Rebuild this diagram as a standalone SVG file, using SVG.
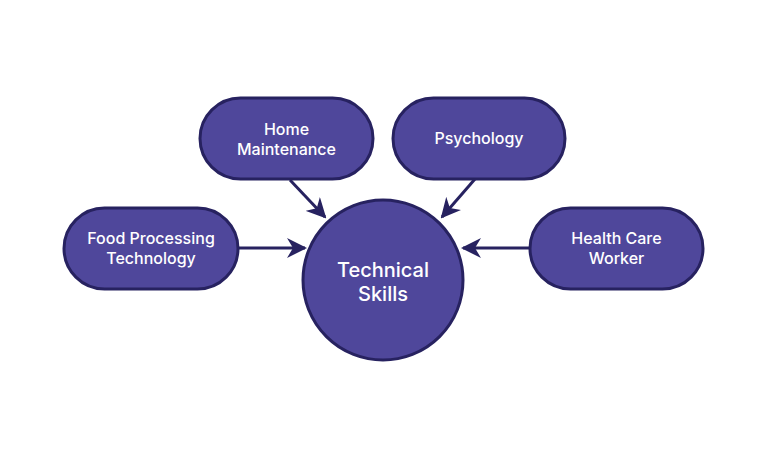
<svg xmlns="http://www.w3.org/2000/svg" width="768" height="460" viewBox="0 0 768 460">
<style>
.n{fill:#4f479b;stroke:#272260;stroke-width:3}
.t{fill:#ffffff;font-family:Inter,"Noto Sans",sans-serif;font-size:16px;font-weight:500;text-anchor:middle}
.b{font-size:20px}
.c{stroke:#272260;stroke-width:3;fill:none}
</style>
<defs>
<marker id="ah" viewBox="0 0 20 20" refX="18" refY="10" markerWidth="20" markerHeight="20" markerUnits="userSpaceOnUse" orient="auto">
<path d="M0,0 L20,10 L0,20 L6,10 Z" fill="#272260"/>
</marker>
</defs>
<rect width="768" height="460" fill="#ffffff"/>
<g id="connectors">
<line class="c" x1="290" y1="180" x2="325" y2="217" marker-end="url(#ah)"/>
<line class="c" x1="475" y1="179" x2="442" y2="217" marker-end="url(#ah)"/>
<line class="c" x1="238" y1="248" x2="305" y2="248" marker-end="url(#ah)"/>
<line class="c" x1="530" y1="248" x2="463" y2="248" marker-end="url(#ah)"/>
</g>
<g id="center">
<circle class="n" cx="383" cy="280" r="80"/>
<text class="t b" x="383" y="277">Technical</text>
<text class="t b" x="383" y="301">Skills</text>
</g>
<g id="home">
<rect class="n" x="200" y="98" width="173" height="81" rx="40.5"/>
<text class="t" x="286.5" y="135">Home</text>
<text class="t" x="286.5" y="155">Maintenance</text>
</g>
<g id="psych">
<rect class="n" x="393" y="98" width="172" height="81" rx="40.5"/>
<text class="t" x="479" y="144">Psychology</text>
</g>
<g id="food">
<rect class="n" x="64" y="208" width="174" height="81" rx="40.5"/>
<text class="t" x="151" y="244">Food Processing</text>
<text class="t" x="151" y="264">Technology</text>
</g>
<g id="health">
<rect class="n" x="530" y="208" width="173" height="81" rx="40.5"/>
<text class="t" x="616.5" y="244">Health Care</text>
<text class="t" x="616.5" y="264">Worker</text>
</g>
</svg>
